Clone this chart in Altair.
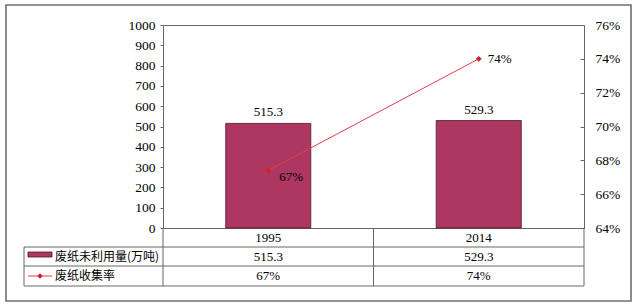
import altair as alt
import pandas as pd

# ---- data ----
years = ["1995", "2014"]
unused = [515.3, 529.3]          # 废纸未利用量（万吨）
rates = [0.674, 0.74]            # 废纸收集率
series_names = ["废纸未利用量(万吨)", "废纸收集率"]
left_ticks = [0, 100, 200, 300, 400, 500, 600, 700, 800, 900, 1000]
right_ticks = [0.64, 0.66, 0.68, 0.70, 0.72, 0.74, 0.76]

df = pd.DataFrame({"year": years, "unused": unused, "rate": rates})
one = pd.DataFrame({"k": [0]})

SERIF = "Liberation Serif"
CJK = "Noto Sans CJK SC"
BAR = "#AE3762"
BAR_STROKE = "#4a1228"
LINE = "#E2404A"
PT = "#D21F2C"
GRID = "#666666"

W, H = 421, 203

base = alt.Chart(df)
x_enc = alt.X(
    "year:N", sort=years,
    scale=alt.Scale(paddingInner=0.596, paddingOuter=0.298),
    axis=alt.Axis(title=None, labelAngle=0, ticks=False, tickSize=0, domain=False,
                  labelFont=SERIF, labelFontSize=13, labelColor="black",
                  labelBaseline="middle", labelPadding=9.5),
)

y_left = alt.Y("unused:Q", scale=alt.Scale(domain=[0, 1000], nice=False),
               axis=alt.Axis(values=left_ticks, format="d", title=None, domain=False, grid=False,
                             tickSize=3, tickColor=GRID, labelPadding=5, labelOverlap=False,
                             labelFont=SERIF, labelFontSize=13.5, labelColor="black"))

bars = base.mark_bar(color=BAR, stroke=BAR_STROKE, strokeWidth=0.8).encode(x=x_enc, y=y_left)
bar_text = base.mark_text(dy=-7, baseline="alphabetic", font=SERIF, fontSize=13, color="black").encode(
    x=x_enc, y=y_left, text=alt.Text("unused:Q", format=".1f"))
left_layer = alt.layer(bars, bar_text)

y_rate = alt.Y("rate:Q", scale=alt.Scale(domain=[0.64, 0.76], nice=False, zero=False),
               axis=alt.Axis(orient="right", values=right_ticks, format=".0%", title=None,
                             offset=-4, tickSize=4, tickColor=GRID, domain=False, grid=False,
                             labelOverlap=False, labelPadding=11,
                             labelFont=SERIF, labelFontSize=13.5, labelColor="black"))
line = base.mark_line(color=LINE, strokeWidth=1).encode(x=x_enc, y=y_rate)
points = base.mark_point(shape="diamond", filled=True, color=PT, size=35, opacity=1).encode(
    x=x_enc, y=y_rate)
rate_a = base.transform_filter(alt.datum.year == years[0]).mark_text(
    align="left", dx=11, dy=7, baseline="middle", font=SERIF, fontSize=13, color="black").encode(
    x=x_enc, y=y_rate, text=alt.Text("rate:Q", format=".0%"))
rate_b = base.transform_filter(alt.datum.year == years[1]).mark_text(
    align="left", dx=9, dy=0, baseline="middle", font=SERIF, fontSize=13, color="black").encode(
    x=x_enc, y=y_rate, text=alt.Text("rate:Q", format=".0%"))
right_layer = alt.layer(line, points, rate_a, rate_b)

# ---- data table below the plot ----
row2 = base.mark_text(font=SERIF, fontSize=13, baseline="middle", color="black").encode(
    x=x_enc, y=alt.value(231.5), text=alt.Text("unused:Q", format=".1f"))
row3 = base.mark_text(font=SERIF, fontSize=13, baseline="middle", color="black").encode(
    x=x_enc, y=alt.value(251), text=alt.Text("rate:Q", format=".0%"))

deco = alt.Chart(one)
def hrule(y, x1, x2):
    return deco.mark_rule(color=GRID, strokeWidth=1).encode(
        x=alt.value(x1), x2=alt.value(x2), y=alt.value(y))
def vrule(x, y1, y2):
    return deco.mark_rule(color=GRID, strokeWidth=1).encode(
        x=alt.value(x), y=alt.value(y1), y2=alt.value(y2))

rules = [
    hrule(222, -139, W), hrule(241, -139, W), hrule(261, -139, W),
    vrule(-139, 222, 261), vrule(0, 203, 261), vrule(210.5, 203, 261), vrule(W, 203, 261),
]

leg_swatch = deco.mark_rect(color=BAR, stroke=BAR_STROKE, strokeWidth=0.8).encode(
    x=alt.value(-135), x2=alt.value(-111), y=alt.value(227), y2=alt.value(232))
leg_line = deco.mark_rule(color=LINE, strokeWidth=1).encode(
    x=alt.value(-135), x2=alt.value(-111), y=alt.value(251))
leg_pt = deco.mark_point(shape="diamond", filled=True, color=PT, size=30, opacity=1).encode(
    x=alt.value(-123), y=alt.value(251))
leg_t1 = deco.mark_text(align="left", baseline="middle", font=CJK, fontSize=12, color="black").encode(
    x=alt.value(-108), y=alt.value(231.5), text=alt.value(series_names[0]))
leg_t2 = deco.mark_text(align="left", baseline="middle", font=CJK, fontSize=12, color="black").encode(
    x=alt.value(-108), y=alt.value(251), text=alt.value(series_names[1]))

frame = deco.mark_rect(fillOpacity=0, stroke="#6f6f6f", strokeWidth=1.6).encode(
    x=alt.value(-157), x2=alt.value(468), y=alt.value(-20), y2=alt.value(276))

chart = alt.layer(
    frame, left_layer, right_layer, row2, row3, *rules,
    leg_swatch, leg_line, leg_pt, leg_t1, leg_t2,
).resolve_scale(y="independent").properties(
    width=W, height=H,
    autosize=alt.AutoSizeParams(type="none"),
    padding={"left": 163, "top": 25, "right": 643 - 163 - W, "bottom": 307 - 25 - H},
    background="white",
).configure_view(stroke=GRID, strokeWidth=1)

chart.save("out.html", embed_options={"renderer": "svg", "actions": False})
